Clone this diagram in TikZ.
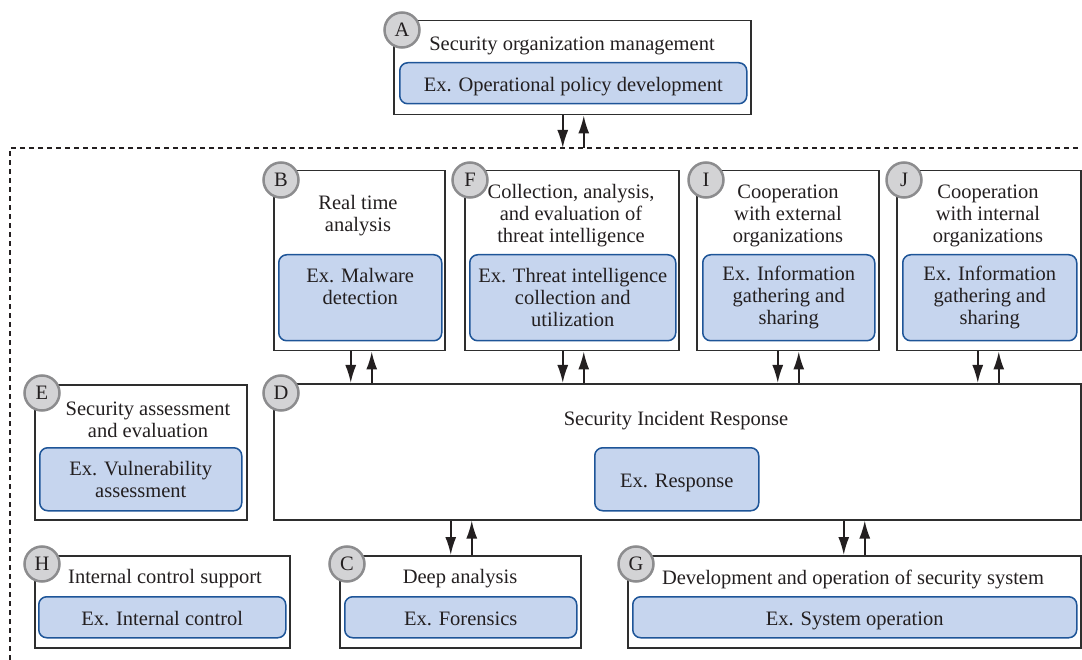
\documentclass[tikz,border=0pt]{standalone}
\usepackage{fontspec}
\setmainfont{Liberation Serif}
\usetikzlibrary{arrows.meta}
\definecolor{exfill}{HTML}{C6D5EE}
\definecolor{exline}{HTML}{1E5598}
\definecolor{boxline}{HTML}{2E2E2E}
\definecolor{badgefill}{HTML}{D3D3D5}
\definecolor{badgeline}{HTML}{8C8C8E}
\definecolor{ink}{HTML}{231F20}
\begin{document}
\begin{tikzpicture}[x=1pt,y=-1pt,>={Latex[length=18pt,width=11pt]},
    every node/.style={font=\fontsize{20.5}{22}\selectfont,text=ink},
    box/.style={draw=boxline,line width=1.5pt,anchor=north west,inner sep=0pt},
    exbox/.style={draw=exline,fill=exfill,line width=1.5pt,rounded corners=8pt,anchor=north west,inner sep=0pt,align=center},
    oneline/.style={text height=16pt,text depth=0pt},
    title/.style={align=center,inner sep=0pt},
    badge/.style={circle,draw=badgeline,fill=badgefill,line width=2.5pt,minimum size=35pt,inner sep=0pt},
    link/.style={->,line width=1.8pt,draw=ink}]
    \useasboundingbox (0,0) rectangle (1082,660);

    \draw[dashed,dash pattern=on 5pt off 4pt,line width=1.5pt,draw=ink] (10,660) -- (10,148) -- (1082,148);
    \coordinate (zone) at (10,148);

    \node[box,minimum width=357,minimum height=94] (A) at (393,20) {};
    \node[title] (tA) at (572,46) {Security organization management};
    \node[exbox,oneline,minimum width=347,minimum height=41] (exA) at (399,62) {Ex. Operational policy development};
    \node[badge] (bA) at ([shift={(9,10)}]A.north west) {A};

    \node[box,minimum width=171,minimum height=180] (B) at (273,170) {};
    \node[title] (tB) at (358,216) {Real time\\analysis};
    \node[exbox,minimum width=163,minimum height=86] (exB) at (278,254) {Ex. Malware\\detection\\~};
    \node[badge] (bB) at ([shift={(8,10)}]B.north west) {B};

    \node[box,minimum width=214,minimum height=180] (F) at (464,170) {};
    \node[title] (tF) at (571,216) {Collection, analysis,\\and evaluation of\\threat intelligence};
    \node[exbox,minimum width=206,minimum height=86] (exF) at (469,254) {Ex. Threat intelligence\\collection and\\utilization};
    \node[badge] (bF) at ([shift={(6,10)}]F.north west) {F};

    \node[box,minimum width=182,minimum height=180] (I) at (696,170) {};
    \node[title] (tI) at (788,216) {Cooperation\\with external\\organizations};
    \node[exbox,minimum width=172,minimum height=86] (exI) at (702,254) {Ex. Information\\gathering and\\sharing};
    \node[badge] (bI) at ([shift={(10,10)}]I.north west) {I};

    \node[box,minimum width=184,minimum height=180] (J) at (896,170) {};
    \node[title] (tJ) at (988,216) {Cooperation\\with internal\\organizations};
    \node[exbox,minimum width=174,minimum height=86] (exJ) at (902,254) {Ex. Information\\gathering and\\sharing};
    \node[badge] (bJ) at ([shift={(8,10)}]J.north west) {J};

    \node[box,minimum width=807,minimum height=136] (D) at (273,383) {};
    \node[title] (tD) at (676,421) {Security Incident Response};
    \node[exbox,oneline,minimum width=164,minimum height=63] (exD) at (594,447) {Ex. Response};
    \node[badge] (bD) at ([shift={(8,10)}]D.north west) {D};

    \node[box,minimum width=212,minimum height=135] (E) at (34,384) {};
    \node[title] (tE) at (148,420) {Security assessment\\and evaluation};
    \node[exbox,minimum width=202,minimum height=63] (exE) at (39,447) {Ex. Vulnerability\\assessment};
    \node[badge] (bE) at ([shift={(8,9)}]E.north west) {E};

    \node[box,minimum width=255,minimum height=92] (H) at (34,555) {};
    \node[title] (tH) at (165,579) {Internal control support};
    \node[exbox,oneline,minimum width=247,minimum height=41] (exH) at (38,596) {Ex. Internal control};
    \node[badge] (bH) at ([shift={(8,9)}]H.north west) {H};

    \node[box,minimum width=241,minimum height=92] (C) at (339,555) {};
    \node[title] (tC) at (460,579) {Deep analysis};
    \node[exbox,oneline,minimum width=232,minimum height=41] (exC) at (344,596) {Ex. Forensics};
    \node[badge] (bC) at ([shift={(8,9)}]C.north west) {C};

    \node[box,minimum width=453,minimum height=92] (G) at (627,555) {};
    \node[title] (tG) at (853,579) {Development and operation of security system};
    \node[exbox,oneline,minimum width=444,minimum height=41] (exG) at (632,596) {Ex. System operation};
    \node[badge] (bG) at ([shift={(9,9)}]G.north west) {G};

    \draw[link] ([xshift=-9.5]A.south) -- ([xshift=-9.5]A.south |- zone);
    \draw[link] ([xshift=11.5]A.south |- zone) -- ([xshift=11.5]A.south);
    \draw[link] ([xshift=-8.5]B.south) -- ([xshift=-8.5]B.south |- D.north);
    \draw[link] ([xshift=12.5]B.south |- D.north) -- ([xshift=12.5]B.south);
    \draw[link] ([xshift=-9]F.south) -- ([xshift=-9]F.south |- D.north);
    \draw[link] ([xshift=12]F.south |- D.north) -- ([xshift=12]F.south);
    \draw[link] ([xshift=-10]I.south) -- ([xshift=-10]I.south |- D.north);
    \draw[link] ([xshift=11]I.south |- D.north) -- ([xshift=11]I.south);
    \draw[link] ([xshift=-11]J.south) -- ([xshift=-11]J.south |- D.north);
    \draw[link] ([xshift=10]J.south |- D.north) -- ([xshift=10]J.south);
    \draw[link] ([xshift=-9.5]C.north |- D.south) -- ([xshift=-9.5]C.north);
    \draw[link] ([xshift=11.5]C.north) -- ([xshift=11.5]C.north |- D.south);
    \draw[link] ([xshift=-10.5]G.north |- D.south) -- ([xshift=-10.5]G.north);
    \draw[link] ([xshift=10.5]G.north) -- ([xshift=10.5]G.north |- D.south);
\end{tikzpicture}
\end{document}
